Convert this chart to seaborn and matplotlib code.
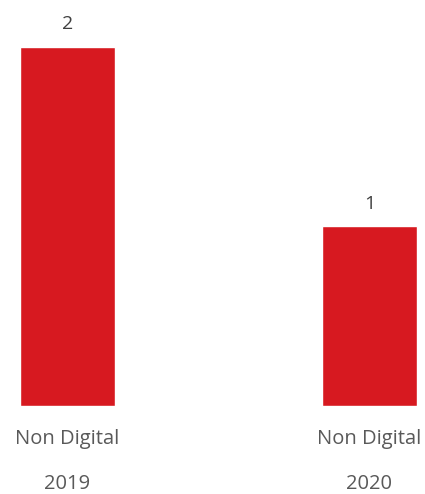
import matplotlib
matplotlib.use("Agg")
import matplotlib.pyplot as plt
import seaborn as sns
import pandas as pd

categories = ["Non Digital", "Non Digital"]
years = ["2019", "2020"]
values = [2, 1]

sns.set_theme(style="white")
plt.rcParams["font.family"] = ["Open Sans", "DejaVu Sans"]

df = pd.DataFrame({"label": [f"{c}\n{y}" for c, y in zip(categories, years)],
                   "value": values})

fig = plt.figure(figsize=(4.25, 4.94), dpi=100)
ax = fig.add_axes([0, 1 - 406 / 494, 1, 406 / 494])

sns.barplot(data=df, x="label", y="value", color="#D71920", saturation=1,
            width=0.315, ax=ax)

ax.set_xlim(-67.5 / 302, 1 + 55.5 / 302)
ax.set_ylim(0, 2 + 47 / 179.5)

for c in ax.containers:
    ax.bar_label(c, labels=[str(v) for v in values], padding=10,
                 fontsize=14, color="#404040")

ax.set_xlabel("")
ax.set_ylabel("")
ax.set_yticks([])
ax.tick_params(axis="x", length=0, pad=16.5, labelsize=14.5, labelcolor="#595959")
for t in ax.get_xticklabels():
    t.set_linespacing(2.7)
    t.set_verticalalignment("top")
sns.despine(ax=ax, left=True, bottom=True)

fig.savefig("out.png", dpi=100)
